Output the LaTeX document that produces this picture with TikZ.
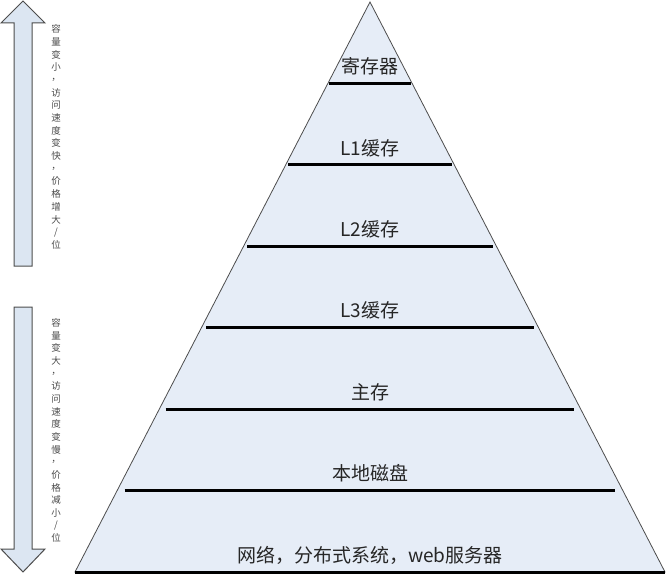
\documentclass[tikz,border=0pt]{standalone}
\usepackage{fontspec}
\usepackage{tikz}
\usetikzlibrary{calc}
\newfontfamily\cjk{Noto Sans CJK SC}
\definecolor{pyrfill}{HTML}{E6EDF7}
\definecolor{arwfill}{HTML}{DCE6F2}
\definecolor{edgec}{HTML}{4D4D4D}
\tikzset{
  lvl/.style={line width=3pt,black},
  lab/.style={font=\cjk\fontsize{19}{19}\selectfont,inner sep=0pt,text=black!85},
  vch/.style={font=\cjk\fontsize{9.5}{10}\selectfont,inner sep=0pt,text=black!70},
  arw/.style={draw=edgec,line width=1pt,fill=arwfill}
}
\begin{document}
\begin{tikzpicture}[x=1pt,y=-1pt]
\useasboundingbox (0,0) rectangle (670,575);
% pyramid
\coordinate (top) at (370,2);
\coordinate (bl) at (75,572);
\coordinate (br) at (665,572);
\draw[edgec,fill=pyrfill,line width=0.8pt] (top) -- (br) -- (bl) -- cycle;
\foreach \k/\txt in {1/寄存器,2/L1缓存,3/L2缓存,4/L3缓存,5/主存,6/本地磁盘,7/网络，分布式系统，web服务器}{%
  \pgfmathsetmacro{\f}{\k<7 ? 0.97 : 1}
  \coordinate (m\k) at ($($(top)!\k/7!(bl)$)!0.5!($(top)!\k/7!(br)$)$);
  \draw[lvl] ($(m\k)!\f!($(top)!\k/7!(bl)$)$) -- ($(m\k)!\f!($(top)!\k/7!(br)$)$);
  \node[lab] (lv\k) at ($(m\k)+(0,-17)$) {\txt};}
% side arrows
\draw[arw] (23,1) -- (45,23) -- (32,23) -- (32,266) -- (14,266) -- (14,23) -- (1,23) -- cycle;
\draw[arw] (14,307) -- (32,307) -- (32,549) -- (45,549) -- (23,572) -- (1,549) -- (14,549) -- cycle;
\foreach \ch [count=\i from 0] in {容,量,变,小,，,访,问,速,度,变,快,，,价,格,增,大,/,位}
  \node[vch] (up\i) at (56,29+12.7*\i) {\ch};
\foreach \ch [count=\i from 0] in {容,量,变,大,，,访,问,速,度,变,慢,，,价,格,减,小,/,位}
  \node[vch] (dn\i) at (56,323+12.65*\i) {\ch};
\end{tikzpicture}
\end{document}
